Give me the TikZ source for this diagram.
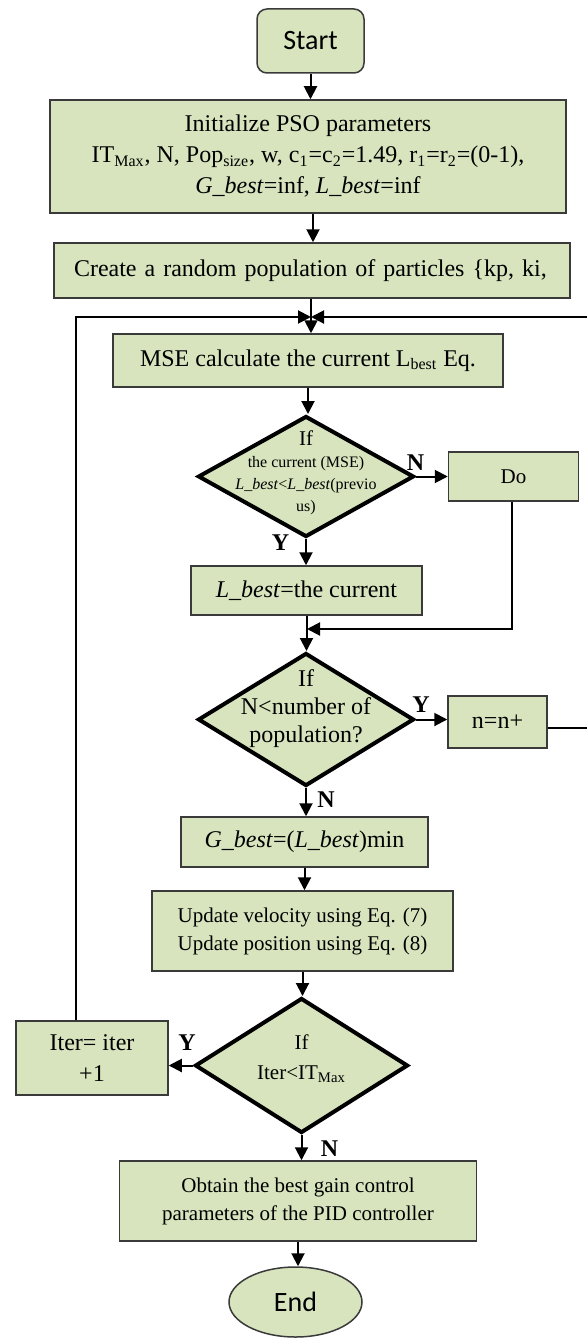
\documentclass[tikz,border=0pt]{standalone}
\usepackage{fontspec}
\setmainfont{Liberation Serif}
\newfontfamily\calibrifont{Carlito}
\usetikzlibrary{shapes.geometric,arrows.meta}
\definecolor{boxgreen}{HTML}{D7E4BD}
\definecolor{boxline}{HTML}{3A3A3A}
\tikzset{
  process/.style={draw=boxline, line width=0.75pt, fill=boxgreen, align=center, inner sep=2pt, font=\fontsize{12}{15.5}\selectfont},
  terminal/.style={process, font=\calibrifont\fontsize{14}{17}\selectfont},
  decision/.style={diamond, draw=black, line width=2pt, fill=boxgreen, inner sep=0pt},
  dtext/.style={align=center, inner sep=0pt},
  yn/.style={font=\bfseries\fontsize{12}{14}\selectfont, inner sep=0pt},
  arrow/.style={-{Triangle[length=6.5pt,width=6.5pt]}, line width=1pt},
}
\begin{document}
\begin{tikzpicture}[x=0.5pt,y=-0.5pt]
		\useasboundingbox (0,0) rectangle (587,1338);
		% set up nodes
		\node[terminal, rounded corners=5pt, minimum width=53.5pt, minimum height=32pt] (start) at (310.5,41) {Start};
		\node[process, minimum width=258pt, minimum height=56.5pt] (init) at (308,156.5) {Initialize PSO parameters\\IT\textsubscript{Max}, N, Pop\textsubscript{size}, w, c\textsubscript{1}=c\textsubscript{2}=1.49, r\textsubscript{1}=r\textsubscript{2}=(0-1),\\\textit{G\_best}=inf, \textit{L\_best}=inf};
		\node[process, align=left, text width=238pt, minimum width=258pt, minimum height=27.5pt] (create) at (312,270.5) {Create a random population of particles \{kp, ki,};
		\node[process, minimum width=195pt, minimum height=26.5pt] (mse) at (308,360.5) {MSE calculate the current L\textsubscript{best} Eq.};
		\node[decision, minimum width=108pt, minimum height=60.5pt] (ifmse) at (306,476.5) {};
		\node[dtext, font=\fontsize{8}{11}\selectfont] (ifmsetext) at (306,473) {{\fontsize{10.5}{11}\selectfont If}\\the current (MSE)\\\textit{L\_best}<\textit{L\_best}(previo\\us)};
		\node[process, minimum width=65pt, minimum height=24.5pt, font=\fontsize{10.5}{13}\selectfont] (do) at (513.5,476.5) {Do};
		\node[process, minimum width=115.5pt, minimum height=24.5pt] (lbest) at (306.5,590.5) {\textit{L\_best}=the current};
		\node[decision, minimum width=108pt, minimum height=66.5pt] (ifpop) at (306,719.5) {};
		\node[dtext, font=\fontsize{12}{14}\selectfont] (ifpoptext) at (306,709) {If\\N<number of\\population?};
		\node[process, minimum width=49.5pt, minimum height=26pt] (ninc) at (497.5,722) {n=n+};
		\node[process, minimum width=123.5pt, minimum height=25pt] (gbest) at (304.5,842) {\textit{G\_best}=(\textit{L\_best})min};
		\node[process, minimum width=150.5pt, minimum height=40pt, font=\fontsize{10.5}{14}\selectfont] (update) at (302.5,931) {Update velocity using Eq. (7)\\Update position using Eq. (8)};
		\node[decision, minimum width=106.5pt, minimum height=67.5pt] (ifiter) at (301.5,1065.5) {};
		\node[dtext, font=\fontsize{10.5}{15}\selectfont] (ifitertext) at (301.5,1059) {If\\Iter<IT\textsubscript{Max}};
		\node[process, minimum width=76pt, minimum height=37pt] (iter) at (92,1058) {Iter= iter\\+1};
		\node[process, minimum width=178.5pt, minimum height=40pt, font=\fontsize{10.5}{14}\selectfont] (obtain) at (298,1201) {Obtain the best gain control\\parameters of the PID controller};
		\node[terminal, ellipse, minimum width=66.5pt, minimum height=35pt] (end) at (295.5,1302) {End};
		% branch labels
		\node[yn] (nmse) at (415.5,462.5) {N};
		\node[yn] (ymse) at (280.5,543) {Y};
		\node[yn] (ypop) at (421,705) {Y};
		\node[yn] (npop) at (326,800) {N};
		\node[yn] (yiter) at (187,1043) {Y};
		\node[yn] (niter) at (329.5,1149) {N};
		\coordinate (merge) at (311,317);
		\coordinate (join) at (307,629);
		% connect them
		\draw[arrow] (start.south) -- (start.south |- init.north);
		\draw[arrow] ([xshift=2.5pt]init.south) -- ([xshift=2.5pt]init.south |- create.north);
		\draw[arrow] (create.south -| merge) -- (merge |- mse.north);
		\draw[arrow] ([xshift=-8pt]iter.north) |- (merge);
		\draw[arrow] ([yshift=-3pt]ninc.east) -- ++(60,0) |- (merge);
		\draw[arrow] (mse.south) -- (mse.south |- ifmse.north);
		\draw[arrow] (ifmse.east) -- (do.west);
		\draw[arrow] ([xshift=-0.75pt]do.south) |- (join);
		\draw[arrow] (ifmse.south) -- (ifmse.south |- lbest.north);
		\draw[arrow] (lbest.south) -- (lbest.south |- ifpop.north);
		\draw[arrow] (ifpop.east) -- (ifpop.east -| ninc.west);
		\draw[arrow] (ifpop.south) -- (ifpop.south |- gbest.north);
		\draw[arrow] (gbest.south) -- (gbest.south |- update.north);
		\draw[arrow] (update.south) -- (update.south |- ifiter.north);
		\draw[arrow] (ifiter.west) -- (ifiter.west -| iter.east);
		\draw[arrow] (ifiter.south) -- (ifiter.south |- obtain.north);
		\draw[arrow] (obtain.south) -- (obtain.south |- end.north);
	\end{tikzpicture}
\end{document}
